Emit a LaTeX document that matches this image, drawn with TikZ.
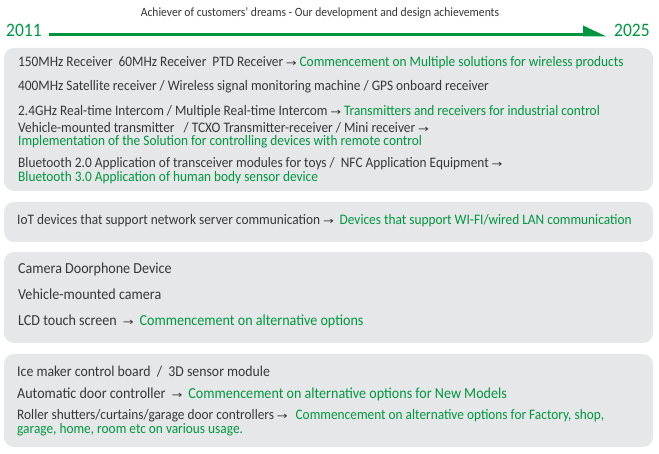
\documentclass[tikz,border=0pt]{standalone}
\usepackage{fontspec}
\setmainfont{Carlito}[FakeStretch=0.92]
\newfontfamily\arrfont{DejaVu Sans}[FakeStretch=1.3]
\definecolor{tgreen}{RGB}{0,150,64}
\definecolor{tgray}{RGB}{55,55,55}
\definecolor{boxfill}{RGB}{230,231,233}
\newcommand{\ar}{\nobreak\hspace{2.8pt}{\arrfont\fontsize{10}{10}\selectfont →}\hspace{2.8pt}}
\newcommand{\gr}[1]{\textcolor{tgreen}{#1}}
\begin{document}
\begin{tikzpicture}[x=1pt,y=-1pt,
  panel/.style={fill=boxfill,rounded corners=10pt},
  row/.style={anchor=base west,inner sep=0pt,text=tgray,font=\fontsize{14.5}{14.5}\selectfont},
  rowlarge/.style={row,font=\fontsize{15.3}{15.3}\selectfont},
  rowmid/.style={row,font=\fontsize{15}{15}\selectfont},
  year/.style={anchor=base west,inner sep=0pt,text=tgreen,font=\fontsize{19}{19}\selectfont}]
\useasboundingbox (0,0) rectangle (659,454);
\fill[white] (0,0) rectangle (659,454);
% title
\node[anchor=base,inner sep=0pt,text=tgray,font=\fontsize{12.6}{12.6}\selectfont] (title) at (320,17) {Achiever of customers’ dreams - Our development and design achievements};
% timeline
\node[year] (y1) at (6,37) {2011};
\node[year] (y2) at (614,37) {2025};
\coordinate (ls) at (49,35);
\coordinate (le) at (586,35);
\draw[tgreen,line width=3pt] (ls) -- (le);
\fill[tgreen] (583,25.5) -- (606.5,36.5) -- (583,36.5) -- cycle;
% panels
\fill[panel] (4,48) rectangle (653,191);
\fill[panel] (4,202) rectangle (653,242);
\fill[panel] (4,252) rectangle (653,343);
\fill[panel] (4,354) rectangle (653,447);
% panel 1
\node[row] (a1) at (18,67) {150MHz Receiver\ \ 60MHz Receiver\ \ PTD Receiver\ar\gr{Commencement on Multiple solutions for wireless products}};
\node[row] (a2) at (18,91) {400MHz Satellite receiver / Wireless signal monitoring machine / GPS onboard receiver};
\node[row] (a3) at (18,115.5) {2.4GHz Real-time Intercom / Multiple Real-time Intercom\ar\gr{Transmitters and receivers for industrial control}};
\node[row] (a4) at (18,132.5) {Vehicle-mounted transmitter\ \ \ / TCXO Transmitter-receiver / Mini receiver\ar};
\node[row,text=tgreen] (a5) at (18,146) {Implementation of the Solution for controlling devices with remote control};
\node[row] (a6) at (18,168) {Bluetooth 2.0 Application of transceiver modules for toys /\ \ NFC Application Equipment\ar};
\node[row,text=tgreen] (a7) at (18,181.5) {Bluetooth 3.0 Application of human body sensor device};
% panel 2
\node[row] (b1) at (17,225) {IoT devices that support network server communication\ar\hspace{3pt}\gr{Devices that support WI-FI/wired LAN communication}};
% panel 3
\node[rowlarge] (c1) at (18,274) {Camera Doorphone Device};
\node[rowlarge] (c2) at (18,300) {Vehicle-mounted camera};
\node[rowlarge] (c3) at (18,326) {LCD touch screen\ \ar\ \gr{Commencement on alternative options}};
% panel 4
\node[rowmid] (d1) at (17,377) {Ice maker control board\ \ /\ \ 3D sensor module};
\node[rowlarge] (d2) at (17,398.5) {Automatic door controller\ \ar\ \gr{Commencement on alternative options for New Models}};
\node[row] (d3) at (17,420) {Roller shutters/curtains/garage door controllers\ar\hspace{5pt}\gr{Commencement on alternative options for Factory, shop,}};
\node[row,text=tgreen] (d4) at (17,433.5) {garage, home, room etc on various usage.};
\end{tikzpicture}
\end{document}
